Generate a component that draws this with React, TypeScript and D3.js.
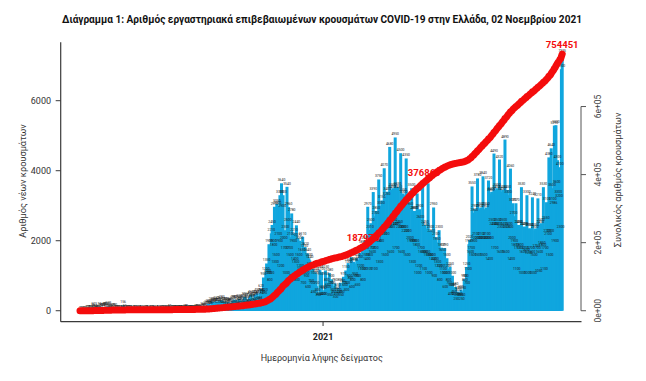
import React from 'react';
import * as d3 from 'd3';

// ---------- data ----------
const startDate = [2020, 1, 26]; // 26 Feb 2020 (first sample date)

const dailyCases: number[] = [
  1, 2, 1, 3, 0, 0, 0,
  2, 1, 21, 14, 21, 7, 16,
  10, 18, 73, 38, 103, 21, 35,
  31, 46, 31, 35, 94, 71, 48,
  78, 71, 74, 95, 95, 56, 102,
  101, 129, 69, 60, 62, 20, 77,
  52, 71, 56, 70, 33, 31, 25,
  22, 15, 17, 11, 4, 10, 156,
  7, 55, 27, 16, 11, 17, 32,
  10, 15, 21, 4, 12, 6, 9,
  10, 15, 13, 6, 10, 4, 16,
  9, 10, 12, 4, 2, 3, 13,
  10, 12, 8, 23, 5, 2, 9,
  17, 29, 15, 8, 2, 3, 14,
  15, 6, 10, 13, 5, 2, 20,
  11, 14, 12, 10, 8, 4, 9,
  18, 22, 47, 16, 12, 7, 27,
  28, 17, 23, 20, 13, 17, 24,
  29, 27, 24, 31, 16, 15, 26,
  28, 38, 30, 41, 18, 17, 22,
  29, 25, 28, 33, 15, 17, 29,
  34, 53, 43, 37, 25, 28, 32,
  57, 57, 79, 110, 91, 40, 75,
  121, 153, 124, 203, 151, 126, 150,
  262, 204, 230, 254, 217, 152, 269,
  235, 213, 231, 284, 177, 162, 293,
  259, 168, 243, 257, 124, 156, 209,
  244, 193, 211, 229, 140, 127, 273,
  297, 317, 213, 306, 164, 147, 242,
  338, 286, 296, 262, 180, 143, 326,
  396, 351, 289, 313, 180, 205, 359,
  416, 460, 346, 358, 224, 247, 456,
  403, 448, 497, 410, 250, 283, 498,
  620, 500, 450, 950, 420, 520, 1100,
  1350, 1050, 1000, 1900, 800, 1000, 2210,
  2450, 1900, 1800, 2970, 1300, 1500, 3050,
  3000, 2100, 1900, 3300, 1200, 3640, 2900,
  3300, 2000, 1700, 2300, 1000, 3540, 2500,
  2960, 1700, 1500, 2100, 2780, 900, 1900,
  2210, 1400, 1300, 2440, 800, 2070, 1500,
  2000, 1200, 1100, 1650, 2110, 700, 1750,
  1820, 1000, 900, 1640, 600, 1500, 1440,
  1250, 750, 700, 1200, 450, 1000, 1100,
  1050, 700, 500, 350, 400, 1160, 950,
  1100, 600, 400, 550, 400, 1150, 950,
  800, 650, 600, 1080, 350, 700, 900,
  700, 500, 450, 780, 300, 400, 560,
  650, 500, 450, 800, 350, 450, 750,
  970, 700, 650, 1150, 500, 700, 1360,
  1300, 900, 850, 1530, 600, 800, 1400,
  1350, 950, 900, 1500, 650, 900, 1450,
  1650, 1200, 1100, 1880, 800, 1100, 1700,
  2000, 1500, 1400, 2970, 1100, 1500, 2310,
  2500, 1700, 1600, 3390, 1100, 1700, 2700,
  2850, 2000, 1900, 3750, 1300, 1900, 3000,
  3150, 2200, 2100, 4070, 1500, 2100, 3250,
  3400, 2400, 2300, 4680, 1600, 2300, 3450,
  3500, 2500, 2400, 4950, 1700, 2400, 3530,
  3450, 2450, 2300, 4500, 1600, 2300, 3350,
  3300, 2300, 2200, 4350, 1500, 2200, 3100,
  2950, 2000, 1900, 3500, 1300, 1900, 2850,
  2850, 1900, 1800, 3350, 1000, 1200, 2900,
  2600, 1700, 1600, 3540, 1100, 1600, 2450,
  2350, 1600, 1500, 3640, 1000, 1500, 2300,
  2200, 1500, 1400, 2950, 900, 1400, 2100,
  1950, 1300, 1200, 2300, 800, 1200, 1800,
  1650, 1100, 1000, 1790, 600, 1000, 1500,
  1200, 800, 700, 1250, 400, 650, 1000,
  650, 450, 400, 680, 250, 350, 550,
  500, 380, 350, 600, 250, 350, 550,
  900, 800, 900, 1250, 700, 1100, 1900,
  2020, 1600, 1700, 3550, 1500, 1900, 2800,
  2900, 2100, 2000, 3780, 1500, 2000, 2900,
  2950, 2100, 2000, 3840, 1500, 2000, 2900,
  2950, 2100, 2000, 3720, 1400, 2000, 3350,
  3400, 2500, 2400, 4490, 1700, 2400, 3450,
  3500, 2500, 2400, 4320, 1600, 2300, 3400,
  3450, 2500, 2400, 4890, 1600, 2300, 3450,
  3300, 2400, 2300, 4060, 1400, 2000, 3070,
  2700, 1900, 1800, 3070, 1100, 1700, 2450,
  2450, 1800, 1700, 3530, 1000, 1600, 2400,
  2400, 1700, 1650, 3300, 1000, 1550, 2350,
  2350, 1700, 1600, 3240, 1000, 1500, 2300,
  2350, 1750, 1700, 3210, 1050, 1600, 2450,
  2500, 1850, 1800, 3530, 1100, 1700, 2550,
  3100, 2200, 2100, 4380, 1500, 2200, 4640,
  3500, 3100, 2986, 5290, 1900, 5300, 3600,
  4300, 3300, 3200, 4100, 2300, 6900, 7335,
];

const leftTicks = [0, 2000, 4000, 6000];
const rightTicks = [0, 200000, 400000, 600000];
const rightTickLabels = ['0e+00', '2e+05', '4e+05', '6e+05'];
const xTickDates = [[2021, 0, 1]];
const xTickLabels = ['2021'];

const titleText =
  'Διάγραμμα 1: Αριθμός εργαστηριακά επιβεβαιωμένων κρουσμάτων COVID-19 στην Ελλάδα, 02 Νοεμβρίου 2021';
const yLeftTitle = 'Αριθμός νέων κρουσμάτων';
const yRightTitle = 'Συνολικός αριθμός κρουσμάτων';
const xTitle = 'Ημερομηνία λήψης δείγματος';

// ---------- component ----------
export default function App() {
  const W = 646;
  const H = 381;
  const FONT = "Roboto, 'Noto Sans', 'DejaVu Sans', sans-serif";
  const n = dailyCases.length;
  const d0 = new Date(startDate[0], startDate[1], startDate[2], 12);
  const dates = dailyCases.map((_, i) => d3.timeDay.offset(d0, i));
  const cum = Array.from(d3.cumsum(dailyCases));
  const total = cum[n - 1];
  const maxDaily = d3.max(dailyCases) as number;

  const plot = { left: 60.7, right: 581.5, top: 43.7, bottom: 321 };
  const t0 = +dates[0];
  const t1 = +dates[n - 1];
  const pad = (t1 - t0) * 0.04;
  const x = d3
    .scaleTime()
    .domain([new Date(t0 - pad), new Date(t1 + pad)])
    .range([plot.left, plot.right]);
  const yL = d3
    .scaleLinear()
    .domain([-0.04 * maxDaily, 1.04 * maxDaily])
    .range([plot.bottom, plot.top]);
  const yR = d3
    .scaleLinear()
    .domain([-0.04 * total, 1.04 * total])
    .range([plot.bottom, plot.top]);

  const line = d3
    .line<number>()
    .x((_, i) => x(dates[i]))
    .y((d) => yR(d))
    .curve(d3.curveLinear);

  const lastBelow = (thr: number) => {
    let k = 0;
    for (let i = 0; i < n; i++) if (cum[i] <= thr) k = i;
    return k;
  };
  const markIdx = [lastBelow(total / 4), lastBelow(total / 2), n - 1];

  const barW = 3;
  const blue = '#10a6de';
  const red = '#f40c0c';
  const axisCol = '#3a3a3a';

  return (
    <svg
      width={W}
      height={H}
      viewBox={`0 0 ${W} ${H}`}
      style={{ position: 'absolute', left: 0, top: 0, background: '#fff' }}
      fontFamily={FONT}
    >
      <rect x={0} y={0} width={W} height={H} fill="#fff" />
      {/* title */}
      <text
        x={62}
        y={23}
        fontSize={11.5}
        fontWeight="bold"
        fill="#111"
        textLength={520}
        lengthAdjust="spacingAndGlyphs"
      >
        {titleText}
      </text>

      {/* bars */}
      <g>
        {dailyCases.map((v, i) => (
          <rect
            key={i}
            x={x(dates[i]) - barW / 2}
            y={yL(v)}
            width={barW}
            height={Math.max(0, yL(0) - yL(v))}
            fill={blue}
          />
        ))}
      </g>
      {/* bar value labels */}
      <g fontSize={3.4} fill="#1a1a1a" textAnchor="middle">
        {dailyCases.map((v, i) => (
          <text key={i} x={x(dates[i])} y={yL(v) - 2}>
            {v}
          </text>
        ))}
      </g>

      {/* cumulative labels */}
      <g fontSize={9.5} fontWeight="bold" fill={red} textAnchor="middle">
        {markIdx.map((k, j) => (
          <text key={j} x={x(dates[k])} y={yR(cum[k]) - 6}>
            {cum[k]}
          </text>
        ))}
      </g>

      {/* cumulative line */}
      <path
        d={line(cum) || ''}
        fill="none"
        stroke={red}
        strokeWidth={7}
        strokeLinecap="round"
        strokeLinejoin="round"
      />

      {/* left axis (L-shaped box) */}
      <line x1={plot.left} x2={plot.left} y1={plot.top - 1.5} y2={plot.bottom + 0.7} stroke={axisCol} strokeWidth={1.2} />
      <line x1={plot.left} x2={plot.right} y1={plot.bottom + 0.7} y2={plot.bottom + 0.7} stroke={axisCol} strokeWidth={1.2} />
      {leftTicks.map((t) => (
        <g key={t}>
          <line x1={plot.left - 5} x2={plot.left} y1={yL(t)} y2={yL(t)} stroke={axisCol} strokeWidth={1} />
          <text x={51} y={yL(t)} dy="0.35em" fontSize={9} textAnchor="end" fill="#333">
            {t}
          </text>
        </g>
      ))}
      <text
        transform={`translate(26,181) rotate(-90)`}
        fontSize={9.2}
        textAnchor="middle"
        fill="#333"
      >
        {yLeftTitle}
      </text>

      {/* x axis ticks */}
      {xTickDates.map((d, j) => {
        const xx = x(new Date(d[0], d[1], d[2], 12));
        return (
          <g key={j}>
            <line x1={xx} x2={xx} y1={plot.bottom + 0.7} y2={plot.bottom + 5} stroke={axisCol} strokeWidth={1} />
            <text x={xx} y={340} fontSize={9} fontWeight="bold" textAnchor="middle" fill="#222">
              {xTickLabels[j]}
            </text>
          </g>
        );
      })}
      <text x={321.7} y={361} fontSize={9} textAnchor="middle" fill="#333">
        {xTitle}
      </text>

      {/* right axis */}
      <line
        x1={581}
        x2={581}
        y1={yR(rightTicks[0])}
        y2={yR(rightTicks[rightTicks.length - 1])}
        stroke="#555"
        strokeWidth={1}
      />
      {rightTicks.map((t, j) => (
        <g key={t}>
          <line x1={581} x2={586} y1={yR(t)} y2={yR(t)} stroke="#555" strokeWidth={1} />
          <text
            transform={`translate(598,${yR(t)}) rotate(-90)`}
            dy="0.35em"
            fontSize={8.5}
            textAnchor="middle"
            fill="#444"
          >
            {rightTickLabels[j]}
          </text>
        </g>
      ))}
      <text
        transform={`translate(618,180) rotate(-90)`}
        dy="0.35em"
        fontSize={9.2}
        textAnchor="middle"
        fill="#333"
      >
        {yRightTitle}
      </text>
    </svg>
  );
}
